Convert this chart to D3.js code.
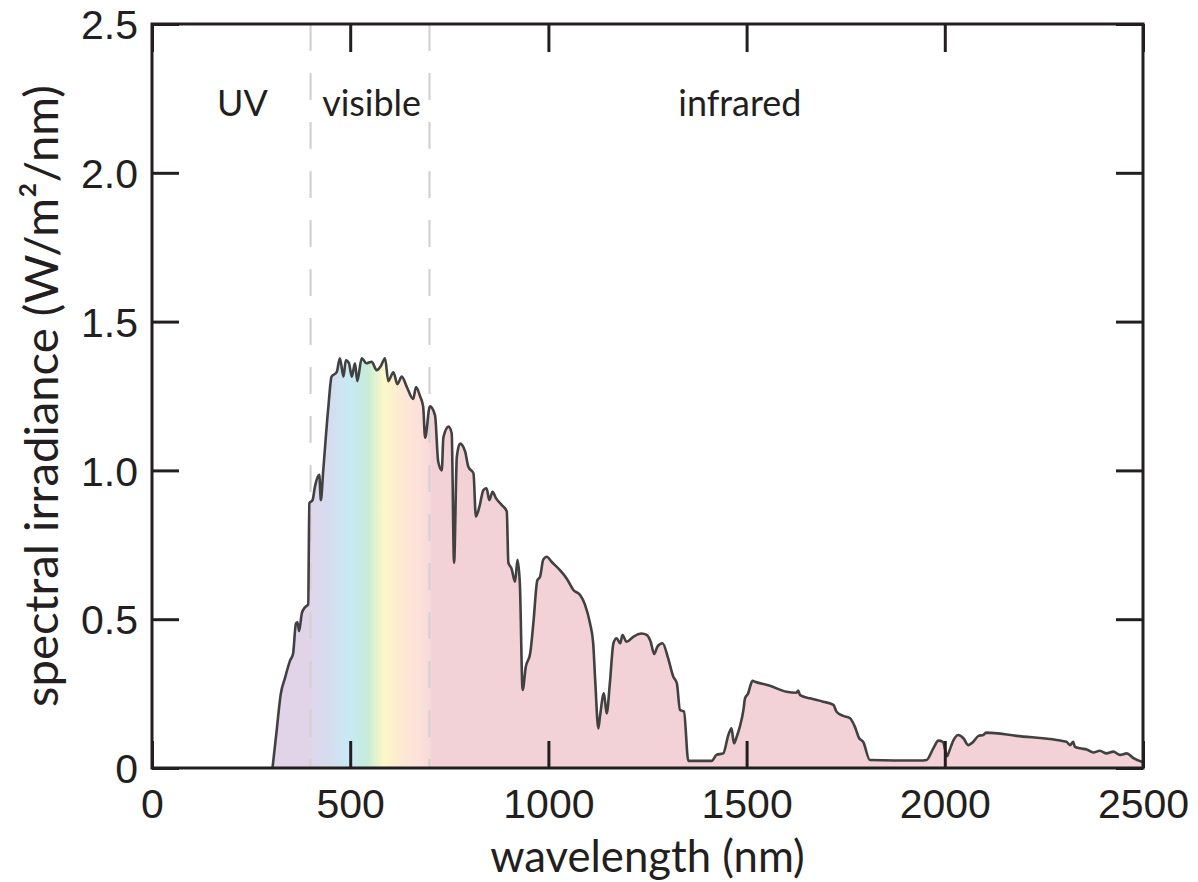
<!DOCTYPE html>
<html>
<head>
<meta charset="utf-8">
<script src="https://cdn.jsdelivr.net/npm/d3@7"></script>
<style>
  html, body { margin: 0; padding: 0; background: #fff; }
  svg { display: block; }
</style>
</head>
<body>
<svg id="chart" width="1198" height="882"></svg>
<script>
// ---- data ----
const wavelength = [304,314,325,335,348,356,363,367,371,378,386,394,397,405,411,422,426,432,445,453,466,474,483,489,497,504,512,518,529,541,554,567,577,588,596,609,619,630,643,659,666,676,684,689,701,714,722,731,735,748,756,762,769,777,790,798,811,817,826,836,844,851,859,868,882,895,899,907,916,922,928,935,943,954,962,972,979,987,996,1008,1029,1046,1063,1080,1092,1105,1113,1118,1126,1130,1140,1147,1155,1164,1172,1181,1187,1197,1214,1235,1248,1258,1267,1275,1288,1302,1315,1324,1332,1342,1353,1412,1424,1441,1454,1462,1468,1475,1483,1492,1496,1504,1510,1515,1521,1559,1601,1626,1630,1635,1660,1693,1719,1727,1744,1761,1773,1784,1794,1811,1937,1954,1971,1984,1995,2006,2009,2022,2034,2047,2059,2072,2085,2097,2104,2181,2307,2316,2324,2328,2341,2358,2375,2391,2408,2425,2442,2459,2476,2497,2500];
const irradiance = [0,0.12,0.25,0.30,0.36,0.385,0.486,0.49,0.46,0.52,0.54,0.55,0.89,0.90,0.945,0.985,0.90,1.0,1.215,1.315,1.33,1.377,1.315,1.37,1.36,1.315,1.36,1.30,1.377,1.36,1.365,1.337,1.35,1.377,1.30,1.33,1.29,1.315,1.28,1.24,1.28,1.25,1.215,1.11,1.215,1.185,1.03,1.00,1.11,1.147,1.125,0.69,1.046,1.09,1.063,1.012,0.99,0.845,0.878,0.934,0.94,0.90,0.928,0.906,0.884,0.862,0.69,0.67,0.626,0.70,0.62,0.262,0.34,0.385,0.486,0.63,0.643,0.70,0.71,0.693,0.665,0.637,0.598,0.581,0.55,0.486,0.419,0.296,0.133,0.172,0.251,0.183,0.284,0.419,0.436,0.419,0.447,0.424,0.441,0.452,0.447,0.424,0.383,0.408,0.419,0.369,0.307,0.285,0.195,0.19,0.024,0.024,0.044,0.049,0.111,0.133,0.083,0.105,0.139,0.195,0.234,0.251,0.279,0.293,0.29,0.276,0.256,0.253,0.26,0.245,0.234,0.223,0.212,0.189,0.175,0.167,0.139,0.10,0.088,0.027,0.025,0.027,0.066,0.092,0.088,0.04,0.049,0.094,0.111,0.10,0.077,0.088,0.108,0.111,0.119,0.108,0.088,0.077,0.088,0.072,0.066,0.062,0.052,0.058,0.049,0.055,0.044,0.049,0.033,0.021,0.02];

const xTicks = [0, 500, 1000, 1500, 2000, 2500];
const xTickLabels = ["0", "500", "1000", "1500", "2000", "2500"];
const yTicks = [0, 0.5, 1.0, 1.5, 2.0, 2.5];
const yTickLabels = ["0", "0.5", "1.0", "1.5", "2.0", "2.5"];

const bandBoundaries = [400, 700];
const bandNames = ["UV", "visible", "infrared"];
const bandLabelWl = [228, 554, 1483];

const gradientWl = [300, 398, 410, 450, 480, 500, 525, 545, 565, 585, 610, 640, 680, 700, 708, 2500];
const gradientColors = ["#e1d4e9", "#e1d4e9", "#ddd8ec", "#d5dcee", "#cde5f3", "#c8eaf5", "#c5ebe4", "#c8ecd6", "#e4f2d0", "#fcf8c8", "#fdf0cc", "#fde6d6", "#fbe0da", "#f8dad8", "#f2d2d6", "#f2d2d6"];

const xTitle = "wavelength (nm)";
const yTitle = "spectral irradiance (W/m\u00B2/nm)";

// ---- drawing ----
const svg = d3.select("#chart");
const x = d3.scaleLinear().domain([0, 2500]).range([152, 1143]);
const y = d3.scaleLinear().domain([0, 2.5]).range([768, 24]);
const ink = "#231f20";
const labelFont = "Lato, 'Open Sans', sans-serif";
const data = wavelength.map((w, i) => ({ w, v: irradiance[i] }));

// gradient
const defs = svg.append("defs");
const x0 = x(gradientWl[0]), x1 = x(gradientWl[gradientWl.length - 1]);
const grad = defs.append("linearGradient").attr("id", "spec")
  .attr("gradientUnits", "userSpaceOnUse")
  .attr("x1", x0).attr("x2", x1).attr("y1", 0).attr("y2", 0);
gradientWl.forEach((w, i) => {
  grad.append("stop").attr("offset", (x(w) - x0) / (x1 - x0)).attr("stop-color", gradientColors[i]);
});

// area + line
const area = d3.area().x(d => x(d.w)).y0(y(0)).y1(d => y(d.v)).curve(d3.curveMonotoneX);
const line = d3.line().x(d => x(d.w)).y(d => y(d.v)).curve(d3.curveMonotoneX);
svg.append("path").datum(data).attr("d", area).attr("fill", "url(#spec)");

// band boundaries
svg.selectAll("line.band").data(bandBoundaries).join("line").attr("class", "band")
  .attr("x1", d => x(d)).attr("x2", d => x(d))
  .attr("y1", y(2.5)).attr("y2", y(0))
  .attr("stroke", "#d2d2d2").attr("stroke-width", 2.2)
  .attr("stroke-dasharray", "27,22");

svg.append("path").datum(data).attr("d", line)
  .attr("fill", "none").attr("stroke", "#414141").attr("stroke-width", 2.6)
  .attr("stroke-linejoin", "round");

function fitWidth(sel, target) {
  const w = sel.node().getComputedTextLength();
  const fs = parseFloat(sel.attr("font-size"));
  const nf = fs * target / w;
  sel.attr("font-size", nf);
  return nf;
}

// band labels
const bandSel = svg.selectAll("text.band").data(bandNames).join("text").attr("class", "band")
  .attr("x", (d, i) => x(bandLabelWl[i])).attr("y", 116)
  .attr("text-anchor", "middle")
  .attr("font-family", labelFont)
  .attr("font-size", 30).attr("fill", ink)
  .text(d => d);
const bandFs = fitWidth(bandSel.filter(d => d === "visible"), 99);
bandSel.attr("font-size", bandFs);

// axes
function styleAxis(g) {
  g.select(".domain").remove();
  g.selectAll(".tick line").attr("stroke", ink).attr("stroke-width", 3);
  g.selectAll(".tick text").attr("font-family", "'Liberation Sans', Arial, sans-serif")
    .attr("font-size", 41).attr("fill", ink);
}
const gB = svg.append("g").attr("transform", `translate(0,${y(0)})`)
  .call(d3.axisBottom(x).tickValues(xTicks).tickFormat((d, i) => xTickLabels[i]).tickSize(-27).tickPadding(21));
styleAxis(gB);
const gT = svg.append("g").attr("transform", `translate(0,${y(2.5)})`)
  .call(d3.axisTop(x).tickValues(xTicks).tickFormat("").tickSize(-28));
styleAxis(gT);
const gL = svg.append("g").attr("transform", `translate(${x(0)},0)`)
  .call(d3.axisLeft(y).tickValues(yTicks).tickFormat((d, i) => yTickLabels[i]).tickSize(-27).tickPadding(14));
styleAxis(gL);
gL.selectAll(".tick text").attr("dy", "0.36em");
const gR = svg.append("g").attr("transform", `translate(${x(2500)},0)`)
  .call(d3.axisRight(y).tickValues(yTicks).tickFormat("").tickSize(-27));
styleAxis(gR);

// frame
svg.append("rect").attr("x", x(0)).attr("y", y(2.5))
  .attr("width", x(2500) - x(0)).attr("height", y(0) - y(2.5))
  .attr("fill", "none").attr("stroke", ink).attr("stroke-width", 3);

// titles
const xt = svg.append("text").attr("x", (x(0) + x(2500)) / 2).attr("y", 868)
  .attr("text-anchor", "middle")
  .attr("font-family", labelFont)
  .attr("font-size", 40).attr("fill", ink).text(xTitle);
fitWidth(xt, 348);
// keep the title clear of the tick labels and inside the picture
(function settleTitle() {
  let tickBottom = 0;
  gB.selectAll(".tick text").each(function () {
    const b = this.getBoundingClientRect();
    tickBottom = Math.max(tickBottom, b.bottom);
  });
  for (let k = 0; k < 40; k++) {
    const b = xt.node().getBoundingClientRect();
    if (b.top >= tickBottom + 1 && b.bottom <= 881) break;
    if (b.top < tickBottom + 1 && b.bottom < 881) {
      xt.attr("y", +xt.attr("y") + Math.min(tickBottom + 1 - b.top, 881 - b.bottom));
    } else {
      xt.attr("font-size", parseFloat(xt.attr("font-size")) * 0.98);
    }
  }
})();

const yt = svg.append("text")
  .attr("transform", `translate(58,${(y(0) + y(2.5)) / 2}) rotate(-90)`)
  .attr("text-anchor", "middle")
  .attr("font-family", labelFont)
  .attr("font-size", 40).attr("fill", ink).text(yTitle);
fitWidth(yt, 622);
</script>
</body>
</html>
